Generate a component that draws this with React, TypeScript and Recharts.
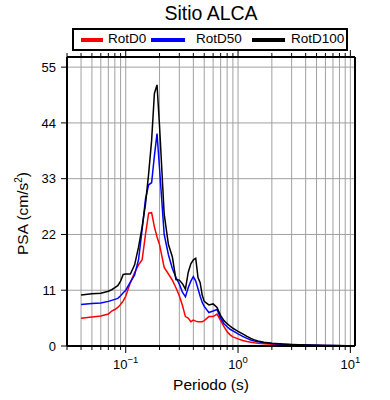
import { LineChart, Line, XAxis, YAxis, CartesianGrid } from "recharts";

const periods = [
  0.04, 0.05, 0.06, 0.07, 0.075, 0.08, 0.085, 0.09, 0.095, 0.1, 0.11, 0.12,
  0.13, 0.14, 0.15, 0.16, 0.17, 0.18, 0.19, 0.2, 0.22, 0.24, 0.26, 0.28, 0.3,
  0.32, 0.34, 0.36, 0.38, 0.4, 0.42, 0.44, 0.46, 0.48, 0.5, 0.55, 0.6, 0.65,
  0.7, 0.75, 0.8, 0.85, 0.9, 0.95, 1.0, 1.1, 1.2, 1.3, 1.4, 1.5, 1.7, 2.0, 2.5,
  3, 4, 5, 6, 7, 8, 9, 10,
];

const rotD0 = [
  5.45, 5.7, 5.9, 6.3, 6.9, 7.2, 7.6, 8.2, 8.9, 9.8, 12.5, 14.5, 16.0, 17.0,
  22.0, 26.2, 26.3, 23.5, 21.5, 20.0, 15.5, 14.2, 13.0, 11.5, 9.9, 8.0, 5.8,
  5.5, 4.8, 5.1, 4.9, 4.8, 4.8, 4.8, 5.0, 5.8, 5.8, 6.3, 5.0, 3.8, 2.8, 2.2,
  1.8, 1.6, 1.4, 1.1, 0.9, 0.75, 0.62, 0.55, 0.45, 0.35, 0.25, 0.2, 0.13, 0.1,
  0.08, 0.06, 0.05, 0.045, 0.04,
];

const rotD50 = [
  8.2, 8.4, 8.5, 8.8, 9.0, 9.2, 9.4, 9.9, 10.5, 11.0, 12.6, 14.0, 17.0, 23.0,
  29.0, 31.8, 32.2, 37.5, 41.9, 35.0, 22.0, 18.0, 15.3, 13.5, 12.2, 10.6, 9.7,
  11.5, 12.8, 13.7, 12.8, 11.3, 9.8, 8.6, 7.8, 6.6, 6.9, 7.2, 5.5, 4.4, 3.8,
  3.3, 3.0, 2.7, 2.4, 1.9, 1.5, 1.2, 1.0, 0.85, 0.65, 0.5, 0.35, 0.27, 0.18,
  0.13, 0.1, 0.08, 0.07, 0.06, 0.05,
];

const rotD100 = [
  10.05, 10.3, 10.4, 10.8, 11.1, 11.5, 11.9, 12.8, 14.1, 14.2, 14.2, 16.0,
  19.5, 23.5, 28.0, 34.0, 40.5, 49.8, 51.5, 43.4, 26.0, 20.0, 17.6, 13.1, 13.0,
  12.3, 11.2, 14.5, 16.2, 17.0, 17.3, 13.5, 12.5, 10.0, 8.8, 8.1, 8.3, 7.6,
  6.0, 5.0, 4.4, 3.9, 3.5, 3.2, 2.9, 2.4, 1.9, 1.5, 1.2, 1.0, 0.75, 0.55, 0.4,
  0.3, 0.2, 0.15, 0.12, 0.1, 0.08, 0.07, 0.06,
];

const yTicks = [0, 11, 22, 33, 44, 55];
const xTicks = [
  0.03, 0.04, 0.05, 0.06, 0.07, 0.08, 0.09, 0.1, 0.2, 0.3, 0.4, 0.5, 0.6, 0.7,
  0.8, 0.9, 1, 2, 3, 4, 5, 6, 7, 8, 9, 10,
];
const majorTicks = [0.1, 1, 10];
const majorExp = ["\u22121", "0", "1"];

const data = periods.map((p, i) => ({
  p,
  d0: rotD0[i],
  d50: rotD50[i],
  d100: rotD100[i],
}));

const font = "'Liberation Sans', Arial, Helvetica, sans-serif";

function BottomTick(props: any) {
  const { x, y, payload } = props;
  const k = majorTicks.indexOf(payload.value);
  const major = k >= 0;
  return (
    <g>
      <line x1={x} x2={x} y1={y} y2={y + (major ? 7 : 4)} stroke="#000" />
      {major && (
        <text x={x} y={y + 23} textAnchor="middle" fontSize={13} fill="#000">
          10
          <tspan dy={-6} fontSize={9.5}>
            {majorExp[k]}
          </tspan>
        </text>
      )}
    </g>
  );
}

function TopTick(props: any) {
  const { x, y, payload } = props;
  const major = majorTicks.includes(payload.value);
  return <line x1={x} x2={x} y1={y} y2={y - (major ? 7 : 4)} stroke="#000" />;
}

function XTitle(props: any) {
  const { viewBox } = props;
  const cx = viewBox.x + viewBox.width / 2;
  return (
    <text x={cx} y={viewBox.y + 44} textAnchor="middle" fontSize={15.5} fill="#000">
      Periodo (s)
    </text>
  );
}

function YTitle(props: any) {
  const { viewBox } = props;
  const cx = viewBox.x + 23;
  const cy = viewBox.y + viewBox.height / 2 + 12;
  return (
    <text
      x={cx}
      y={cy}
      transform={`rotate(-90 ${cx} ${cy})`}
      textAnchor="middle"
      fontSize={15.5}
      fill="#000"
    >
      PSA (cm/s
      <tspan dy={-6} fontSize={10}>
        2
      </tspan>
      <tspan dy={6}>)</tspan>
    </text>
  );
}

function LegendBox() {
  const items = [
    { label: "RotD0", color: "#ff0000", lx: 7, lw: 22, tx: 34 },
    { label: "RotD50", color: "#0000ff", lx: 77, lw: 34, tx: 122 },
    { label: "RotD100", color: "#000000", lx: 178, lw: 33, tx: 217 },
  ];
  return (
    <div
      style={{
        position: "absolute",
        left: 72,
        top: 28,
        width: 272,
        height: 19,
        border: "2px solid #000",
        background: "#fff",
        fontFamily: font,
        fontSize: 13.5,
      }}
    >
      {items.map((it) => (
        <div key={it.label}>
          <div
            style={{
              position: "absolute",
              left: it.lx,
              top: 8,
              width: it.lw,
              height: 4,
              background: it.color,
            }}
          />
          <div style={{ position: "absolute", left: it.tx, top: 1, lineHeight: "16px" }}>
            {it.label}
          </div>
        </div>
      ))}
    </div>
  );
}

export default function App() {
  return (
    <div
      style={{
        position: "absolute",
        left: 0,
        top: 0,
        width: 390,
        height: 400,
        background: "#fff",
        fontFamily: font,
      }}
    >
      <div
        style={{
          position: "absolute",
          left: 0,
          width: 422,
          top: 1,
          textAlign: "center",
          fontSize: 19.5,
          lineHeight: "24px",
        }}
      >
        Sitio ALCA
      </div>
      <LegendBox />
      <LineChart
        width={390}
        height={400}
        data={data}
        margin={{ top: 47, right: 25, bottom: 6, left: 5 }}
        style={{ fontFamily: font }}
      >
        <CartesianGrid
          xAxisId="bottom"
          yAxisId="left"
          stroke="#a0a0a0"
          strokeWidth={1}
        />
        <XAxis
          xAxisId="bottom"
          dataKey="p"
          type="number"
          scale="log"
          domain={[0.03, 11]}
          allowDataOverflow
          ticks={xTicks}
          interval={0}
          height={48}
          tickSize={0}
          tickMargin={0}
          tickLine={false}
          tick={<BottomTick />}
          axisLine={{ stroke: "#000", strokeWidth: 2 }}
          label={<XTitle />}
        />
        <XAxis
          xAxisId="top"
          orientation="top"
          dataKey="p"
          type="number"
          scale="log"
          domain={[0.03, 11]}
          allowDataOverflow
          ticks={xTicks}
          interval={0}
          height={10}
          tickSize={0}
          tickMargin={0}
          tickLine={false}
          tick={<TopTick />}
          axisLine={{ stroke: "#000", strokeWidth: 2 }}
        />
        <YAxis
          yAxisId="left"
          type="number"
          domain={[0, 57]}
          ticks={yTicks}
          interval={0}
          width={62}
          tickSize={6}
          tickMargin={5}
          tick={{ fill: "#000", fontSize: 13 }}
          tickLine={{ stroke: "#000" }}
          axisLine={{ stroke: "#000", strokeWidth: 2 }}
          label={<YTitle />}
        />
        <YAxis
          yAxisId="right"
          orientation="right"
          type="number"
          domain={[0, 57]}
          ticks={yTicks}
          interval={0}
          width={10}
          tickSize={6}
          tickFormatter={() => ""}
          tickLine={{ stroke: "#000" }}
          axisLine={{ stroke: "#000", strokeWidth: 2 }}
        />
        <Line
          xAxisId="bottom"
          yAxisId="left"
          type="linear"
          dataKey="d0"
          stroke="#ff0000"
          strokeWidth={1.5}
          dot={false}
          isAnimationActive={false}
        />
        <Line
          xAxisId="bottom"
          yAxisId="left"
          type="linear"
          dataKey="d50"
          stroke="#0000ff"
          strokeWidth={1.5}
          dot={false}
          isAnimationActive={false}
        />
        <Line
          xAxisId="bottom"
          yAxisId="left"
          type="linear"
          dataKey="d100"
          stroke="#000000"
          strokeWidth={1.5}
          dot={false}
          isAnimationActive={false}
        />
      </LineChart>
    </div>
  );
}
